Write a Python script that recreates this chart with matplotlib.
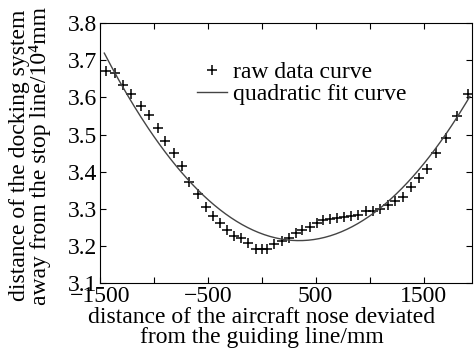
import numpy as np
import matplotlib
matplotlib.use("Agg")
import matplotlib.pyplot as plt

plt.rcParams['font.family'] = ['Liberation Serif', 'DejaVu Serif']
plt.rcParams['font.size'] = 17

# raw data (x in mm, y in 10^4 mm)
raw_x = [-1444, -1361, -1287, -1213, -1120, -1046, -963, -898, -818, -741,
         -670, -593, -519, -448, -386, -318, -256, -191, -130, -56,
         0, 52, 117, 185, 253, 315, 377, 447, 509, 571,
         633, 701, 765, 827, 895, 966, 1028, 1095, 1167, 1234,
         1306, 1380, 1460, 1537, 1620, 1713, 1812, 1914]
raw_y = [3.671, 3.665, 3.633, 3.609, 3.577, 3.552, 3.517, 3.482, 3.449, 3.416,
         3.371, 3.341, 3.305, 3.281, 3.261, 3.243, 3.227, 3.220, 3.209, 3.192,
         3.192, 3.192, 3.205, 3.213, 3.220, 3.234, 3.243, 3.252, 3.263, 3.270,
         3.272, 3.274, 3.279, 3.280, 3.283, 3.294, 3.294, 3.299, 3.310, 3.322,
         3.333, 3.358, 3.382, 3.407, 3.449, 3.490, 3.550, 3.610]

x_ticks = [-1500, -1000, -500, 0, 500, 1000, 1500]
x_ticklabels = ['\u22121500', '', '\u2212500', '', '500', '', '1500']
y_ticks = [3.1, 3.2, 3.3, 3.4, 3.5, 3.6, 3.7, 3.8]

# quadratic least-squares fit of the raw data
coef = np.polyfit(raw_x, raw_y, 2)
fit_x = np.linspace(-1460, 1930, 200)
fit_y = np.polyval(coef, fit_x)

fig = plt.figure(figsize=(4.77, 3.56), dpi=100)
ax = fig.add_axes([0.2096, 0.205, 0.78, 0.73])

ax.plot(raw_x, raw_y, '+', color='black', markersize=7, mew=1.1, label='raw data curve')
ax.plot(fit_x, fit_y, '-', color='#444444', lw=1.0, label='quadratic fit curve')

ax.set_xlim(-1500, 1950)
ax.set_ylim(3.1, 3.8)
ax.set_xticks(x_ticks)
ax.set_xticklabels(x_ticklabels)
ax.set_yticks(y_ticks)
ax.set_yticklabels(['%.1f' % v for v in y_ticks])
ax.tick_params(direction='in', top=True, right=True, length=4, pad=2)

ax.set_xlabel('distance of the aircraft nose deviated\nfrom the guiding line/mm', linespacing=0.95, labelpad=0)
ax.xaxis.set_label_coords((262 - 100) / 372, -0.092)
ax.xaxis.label.set_va('top')
ax.set_ylabel('distance of the docking system\naway from the stop line/10\u2074mm', linespacing=0.95)
ax.yaxis.set_label_coords(-0.132, 0.49)

ax.legend(loc='upper left', bbox_to_anchor=(0.235, 0.887), frameon=False,
          handlelength=1.27, handletextpad=0.25, labelspacing=0.02, borderaxespad=0)

fig.savefig('out.png', dpi=100)
